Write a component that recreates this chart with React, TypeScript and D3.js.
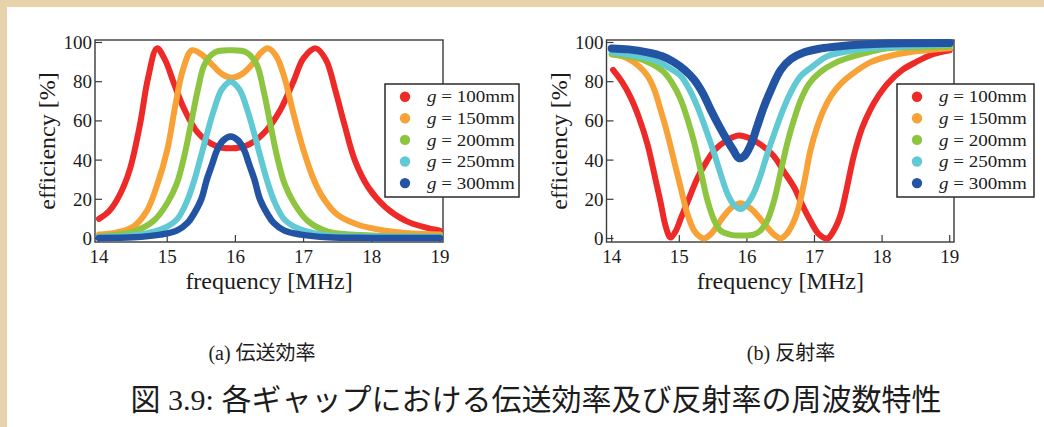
import * as d3 from "d3";

// frequency [MHz] / efficiency [%]
const freqTicks = [14, 15, 16, 17, 18, 19];
const effTicks = [0, 20, 40, 60, 80, 100];
const gapLabels = ["100mm", "150mm", "200mm", "250mm", "300mm"];
const colors = ["#ED2A27", "#F7A136", "#8DC540", "#60C9D3", "#2354A4"];

type Pt = [number, number];

// (a) transmission efficiency
const eff100: Pt[] = [[14,10],[14.15,14],[14.3,22],[14.45,35],[14.6,58],[14.72,82],[14.85,97],[14.97,91],[15.1,79],[15.25,66],[15.45,54],[15.7,47.5],[15.93,46],[16.2,48],[16.45,55],[16.65,65],[16.85,80],[17,92],[17.18,97],[17.33,91],[17.47,75],[17.6,58],[17.75,40],[17.95,26],[18.2,16],[18.5,9],[18.8,5.5],[19,4]];
const eff150: Pt[] = [[14,2],[14.25,3],[14.5,6],[14.7,14],[14.85,27],[15,45],[15.12,68],[15.23,86],[15.36,96],[15.5,94],[15.65,89],[15.8,84],[15.95,82],[16.1,84],[16.25,89],[16.38,95],[16.48,97],[16.6,93],[16.72,82],[16.85,64],[17,45],[17.15,30],[17.3,20],[17.5,12],[17.8,7],[18.2,4],[18.6,2.5],[19,2]];
const eff200: Pt[] = [[14,1],[14.5,3.5],[14.8,9],[15,18],[15.14,28],[15.25,42],[15.34,57],[15.45,76],[15.55,89],[15.7,95],[15.93,96],[16.16,95],[16.31,89],[16.41,76],[16.52,57],[16.61,42],[16.72,28],[16.86,18],[17.06,9],[17.36,3.5],[18,1.5],[19,1]];
const eff250: Pt[] = [[14,0.8],[14.5,1.5],[14.8,3.5],[15,6],[15.15,10],[15.29,19],[15.4,30],[15.48,40],[15.58,53],[15.68,65],[15.8,76],[15.93,80],[16.06,76],[16.18,65],[16.28,53],[16.38,40],[16.46,30],[16.57,19],[16.71,10],[16.86,6],[17.06,3.5],[17.36,1.5],[18,1],[19,0.8]];
const eff300: Pt[] = [[14,0.3],[14.5,0.6],[14.9,2],[15.14,4],[15.3,8],[15.39,12.5],[15.5,20],[15.58,30],[15.66,38],[15.73,45],[15.82,50],[15.93,52],[16.04,50],[16.13,45],[16.2,38],[16.28,30],[16.36,20],[16.47,12.5],[16.56,8],[16.72,4],[16.96,2],[17.36,0.6],[18,0.3],[19,0.2]];

// (b) reflection
const ref100: Pt[] = [[14.02,86],[14.15,80],[14.28,72],[14.4,62],[14.53,48],[14.63,33],[14.72,19],[14.8,6],[14.87,0.5],[14.95,4],[15.02,10],[15.15,21],[15.27,31],[15.4,39],[15.52,45],[15.7,50],[15.88,52.5],[16.05,51],[16.2,48],[16.4,42],[16.55,34],[16.7,26],[16.82,17],[16.94,9],[17.07,2],[17.19,0],[17.3,5],[17.39,12.5],[17.48,26],[17.58,42],[17.7,56],[17.83,66],[17.95,73],[18.08,79],[18.3,86],[18.5,90],[18.75,94],[19,96]];
const ref150: Pt[] = [[14,94],[14.15,93],[14.28,91],[14.4,88],[14.53,83],[14.63,76],[14.72,66],[14.82,54],[14.92,40],[15.02,26],[15.12,12.5],[15.22,4],[15.3,1],[15.37,0],[15.46,2],[15.55,6],[15.65,11],[15.78,16],[15.91,18],[16.05,15.5],[16.2,10],[16.32,5],[16.42,1.5],[16.5,0],[16.58,2],[16.67,7],[16.75,14],[16.85,29],[16.94,45],[17.04,57],[17.14,66],[17.25,73],[17.39,79],[17.6,85],[17.83,90],[18.1,93],[18.4,95],[19,97]];
const ref200: Pt[] = [[14,94],[14.38,92],[14.6,89],[14.77,85],[14.9,79],[15.02,71],[15.12,61],[15.22,49],[15.32,34],[15.42,19],[15.52,9],[15.61,4],[15.75,2],[15.95,1.5],[16.1,2],[16.2,4],[16.3,9],[16.4,19],[16.5,34],[16.6,49],[16.7,61],[16.8,71],[16.92,79],[17.09,85],[17.3,89.5],[17.58,93],[17.8,95],[18.08,97],[18.5,97.5],[19,98]];
const ref250: Pt[] = [[14,95],[14.3,93.5],[14.63,91],[14.85,87],[15.02,83],[15.15,76],[15.27,67],[15.4,55],[15.52,43],[15.62,32],[15.71,23],[15.8,17.5],[15.91,15],[16,17.5],[16.1,23],[16.2,32],[16.3,43],[16.42,55],[16.55,67],[16.67,76],[16.8,83],[16.98,88],[17.19,93],[17.5,95.5],[17.83,97],[18.3,98],[19,99]];
const ref300: Pt[] = [[14,97],[14.25,96.5],[14.53,95],[14.75,93],[14.92,90],[15.08,86],[15.22,81],[15.35,74],[15.46,66],[15.58,58],[15.71,50],[15.8,45],[15.88,41],[15.96,42],[16.06,48],[16.15,57],[16.25,67],[16.37,77],[16.5,86],[16.65,91.5],[16.85,95],[17.1,97],[17.34,98],[17.7,99],[18.08,99.5],[19,99.7]];

const effSeries = [eff100, eff150, eff200, eff250, eff300];
const refSeries = [ref100, ref150, ref200, ref250, ref300];

const serif = "'Liberation Serif', 'Times New Roman', serif";
const jp = "'Liberation Serif', 'Noto Sans CJK JP', serif";
const ink = "#1c1c1c";

type PanelProps = {
  series: Pt[][];
  x0: number;
  x1: number;
  frameL: number;
  frameR: number;
  yLabelX: number;
  legendX: number;
  legendW: number;
  widths: number[];
};

function Panel({ series, x0, x1, frameL, frameR, yLabelX, legendX, legendW, widths }: PanelProps) {
  const frameT = 40;
  const frameB = 242;
  const x = d3.scaleLinear().domain([14, 19]).range([x0, x1]);
  const y = d3.scaleLinear().domain([0, 100]).range([238.5, 42.5]);
  const line = d3
    .line<Pt>()
    .x((d) => x(d[0]))
    .y((d) => y(d[1]))
    .curve(d3.curveCatmullRom.alpha(0.5));

  const legendY = 84;
  const rowH = 21.6;

  return (
    <g>
      <rect x={frameL} y={frameT} width={frameR - frameL} height={frameB - frameT} fill="#fff" stroke="#3a3a3a" strokeWidth={1.4} />
      {freqTicks.map((t) => (
        <g key={"x" + t}>
          <line x1={x(t)} x2={x(t)} y1={frameB} y2={frameB - 7} stroke="#3a3a3a" strokeWidth={1.2} />
          <text x={x(t)} y={263} textAnchor="middle" fontFamily={serif} fontSize={19} fill={ink}>
            {t}
          </text>
        </g>
      ))}
      {effTicks.map((t) => (
        <g key={"y" + t}>
          <line x1={frameL} x2={frameL + 7} y1={y(t)} y2={y(t)} stroke="#3a3a3a" strokeWidth={1.2} />
          <text x={frameL - 3} y={y(t)} dy="0.34em" textAnchor="end" fontFamily={serif} fontSize={19} fill={ink}>
            {t}
          </text>
        </g>
      ))}
      {series.map((s, i) => (
        <path key={i} d={line(s) || ""} fill="none" stroke={colors[i]} strokeWidth={widths[i]} strokeLinecap="round" strokeLinejoin="round" />
      ))}
      <text x={(frameL + frameR) / 2} y={289} textAnchor="middle" fontFamily={serif} fontSize={24} fill={ink}>
        frequency [MHz]
      </text>
      <text
        transform={`translate(${yLabelX},${(frameT + frameB) / 2}) rotate(-90)`}
        textAnchor="middle"
        fontFamily={serif}
        fontSize={24}
        fill={ink}
      >
        efficiency [%]
      </text>
      <rect x={legendX} y={legendY} width={legendW} height={113} fill="#fff" stroke="#2a2a2a" strokeWidth={1.5} />
      {gapLabels.map((g, i) => (
        <g key={g} transform={`translate(0,${legendY + 12.7 + i * rowH})`}>
          <circle cx={legendX + 20} cy={0} r={5.2} fill={colors[i]} />
          <text
            transform={`translate(${legendX + 42},0) scale(1.12,1)`}
            dy="0.34em"
            fontFamily={serif}
            fontSize={17}
            fill={ink}
          >
            <tspan fontStyle="italic">g</tspan>
            <tspan> = {g}</tspan>
          </text>
        </g>
      ))}
    </g>
  );
}

export default function App() {
  return (
    <svg
      width={1044}
      height={427}
      style={{ position: "absolute", left: 0, top: 0, display: "block" }}
    >
      <rect x={0} y={0} width={1044} height={427} fill="#E8D2AB" />
      <rect x={7} y={7} width={1037} height={420} fill="#fff" />
      <Panel
        series={effSeries}
        x0={99}
        x1={440}
        frameL={95}
        frameR={443}
        yLabelX={55}
        legendX={385}
        legendW={134}
        widths={[6, 6, 6, 6, 6.5]}
      />
      <Panel
        series={refSeries}
        x0={611.7}
        x1={949.7}
        frameL={606.5}
        frameR={954}
        yLabelX={567}
        legendX={897}
        legendW={137}
        widths={[6, 6, 6, 6, 8]}
      />
      <text x={262} y={360} textAnchor="middle" fontFamily={jp} fontSize={20} fill={ink}>
        (a) 伝送効率
      </text>
      <text x={791} y={360} textAnchor="middle" fontFamily={jp} fontSize={20} fill={ink}>
        (b) 反射率
      </text>
      <text x={536} y={410} textAnchor="middle" fontFamily={jp} fontSize={30} fill={ink}>
        図 3.9: 各ギャップにおける伝送効率及び反射率の周波数特性
      </text>
    </svg>
  );
}
